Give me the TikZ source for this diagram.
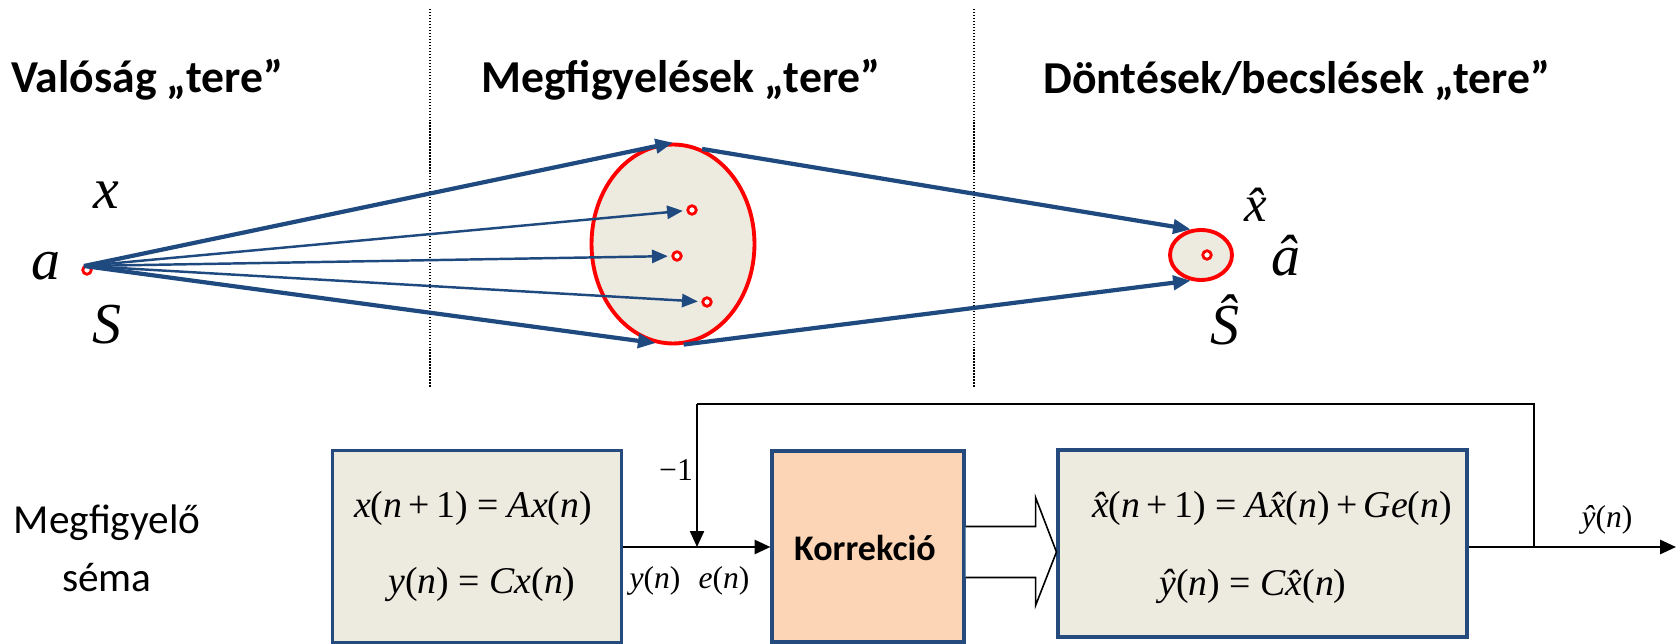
\documentclass[tikz,border=0pt]{standalone}
\usepackage{fontspec}
\setmainfont{Liberation Serif}
\newfontfamily\calib{Carlito}
\usetikzlibrary{arrows.meta,shapes.geometric,calc}

\definecolor{rayblue}{HTML}{1F4A7F}
\definecolor{boxblue}{HTML}{244A7E}
\definecolor{paper}{HTML}{EDEAE0}
\definecolor{peach}{HTML}{FBD5B5}

% italic symbol and hatted italic symbol
\newcommand\mi[1]{{\itshape #1}}
\newcommand\hv[1]{{\itshape\^#1}}

\tikzset{
  heading/.style={font=\calib\bfseries\fontsize{26}{30}\selectfont, anchor=west, inner sep=0},
  sym/.style={font=\fontsize{33}{36}\selectfont\itshape, inner sep=0},
  divider/.style={densely dotted, line width=0.7pt},
  ray/.style={draw=rayblue, line width=1.4pt, -{Triangle[length=9pt,width=7.5pt]}},
  bigray/.style={draw=rayblue, line width=2.4pt, -{Triangle[length=10pt,width=8pt]}},
  region/.style={ellipse, draw=red, line width=2.2pt, fill=paper, inner sep=0},
  pt/.style={circle, draw=red, line width=1.6pt, fill=white, minimum size=0.17cm, inner sep=0},
  block/.style={draw=boxblue, line width=1.8pt, inner sep=0},
  eq/.style={font=\fontsize{21.5}{25}\selectfont, inner sep=0},
  lbl/.style={font=\fontsize{18}{22}\selectfont, inner sep=0},
  wire/.style={line width=1.3pt, -{Triangle[length=9pt,width=8pt]}},
  fb/.style={line width=0.9pt},
}

\begin{document}
\begin{tikzpicture}[x=0.02cm,y=-0.02cm]
\useasboundingbox (0,0) rectangle (1679,644);

% section headings and dividers
\node[heading] (h1) at (11,80) {Valóság „tere”};
\node[heading] (h2) at (481,80) {Megfigyelések „tere”};
\node[heading] (h3) at (1043,80) {Döntések/becslések „tere”};
\draw[divider] (430,9) -- (430,388);
\draw[divider] (974,9) -- (974,388);

% reality: the source point
\node[pt] (a) at (87,270) {};
\coordinate (src) at (84,266);
\node[sym] (la) at (46,266) {a};
\node[sym] (lx) at (106,195) {x};
\node[sym] (lS) at (107,325) {S};

% observation region
\node[region, minimum width=3.26cm, minimum height=3.98cm] (obs) at (673,244) {};
\node[pt] (o1) at (692,210) {};
\node[pt] (o2) at (677,256) {};
\node[pt] (o3) at (707,302) {};

\draw[bigray] (src) -- (obs.north);
\draw[bigray] (src) -- (obs.-100);
\draw[ray, shorten >=2pt] (src) -- (o1);
\draw[ray, shorten >=2pt] (src) -- (o2);
\draw[ray, shorten >=2pt] (src) -- (o3);

% decision region
\node[region, minimum width=1.24cm, minimum height=1.0cm] (dec) at (1201,255) {};
\node[pt] (d0) at (1207,255) {};
\draw[bigray] (obs.73) -- (dec.112);
\draw[bigray] (obs.-84) -- (dec.-112);
\node[font=\fontsize{29}{32}\selectfont, inner sep=0] (lxh) at (1256,205) {\hv{x}};
\node[font=\fontsize{33}{36}\selectfont, inner sep=0] (lah) at (1286,256) {\hv{a}};
\node[sym] (lSh) at (1225,320) {\^S};

% observer scheme
\node[font=\calib\fontsize{23.5}{33}\selectfont, align=center, inner sep=0] (cap) at (107,548) {Megfigyelő\\séma};

\node[block, fill=paper, minimum width=5.78cm, minimum height=3.84cm] (sys) at (477,546.5) {};
\node[eq] (s1) at (473,508) {\mi{x}(\mi{n}\,+\,1) = \mi{Ax}(\mi{n})};
\node[eq] (s2) at (482,584) {\mi{y}(\mi{n}) = \mi{Cx}(\mi{n})};

\node[block, fill=peach, minimum width=3.84cm, minimum height=3.82cm] (korr) at (868,546.5) {};
\node[font=\calib\bfseries\fontsize{20.5}{24}\selectfont, inner sep=0] (kt) at (865,548) {Korrekció};

\node[block, fill=paper, minimum width=8.18cm, minimum height=3.74cm] (est) at (1262.5,543.5) {};
\node[eq] (e1) at (1272,508) {\hv{x}(\mi{n}\,+\,1) = \mi{A}\hv{x}(\mi{n})\,+\,\mi{Ge}(\mi{n})};
\node[eq] (e2) at (1253,586) {\hv{y}(\mi{n}) = \mi{C}\hv{x}(\mi{n})};

% hollow block arrow from the correction to the estimator
\draw[line width=0.9pt, fill=white, line join=miter]
  ($(korr.east)+(0,-20)$) -- ++(70,0) -- ++(0,-29) -- (est.west |- 0,552)
  -- ($(korr.east)+(70,59)$) -- ++(0,-28) -- ($(korr.east)+(0,31)$);

% signal path with feedback
\coordinate (sum) at (697,547);
\coordinate (tap) at (1534,547);
\coordinate (fbtop) at (697,404);
\coordinate (out) at (1676,547);
\draw[wire] (sys.east |- sum) -- (korr.west |- sum);
\draw[fb] (tap) |- (fbtop);
\draw[fb, -{Triangle[length=9pt,width=8pt]}] (fbtop) -- (sum);
\draw[wire] (est.east |- tap) -- (out);

\node[lbl] (m1) at (676,470) {\textminus1};
\node[lbl] (ly) at (655,581) {\mi{y}(\mi{n})};
\node[lbl] (le) at (724,581) {\mi{e}(\mi{n})};
\node[lbl] (lyh) at (1607,520) {\hv{y}(\mi{n})};
\end{tikzpicture}
\end{document}
